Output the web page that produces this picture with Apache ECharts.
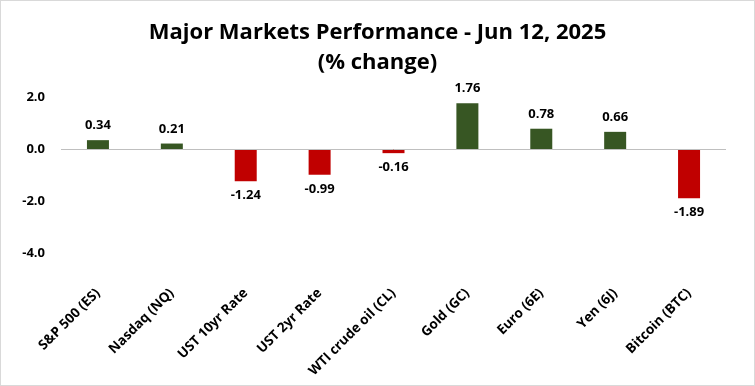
<!DOCTYPE html>
<html><head><meta charset="utf-8">
<script src="https://cdn.jsdelivr.net/npm/echarts@6/dist/echarts.min.js"></script>
<style>html,body{margin:0;padding:0;background:#fff}#c{width:755px;height:386px;box-sizing:border-box;border:1px solid #d9d9d9}</style>
</head><body><div id="c"></div>
<script>
const categories = ["S&P 500 (ES)","Nasdaq (NQ)","UST 10yr Rate","UST 2yr Rate","WTI crude oil (CL)","Gold (GC)","Euro (6E)","Yen (6J)","Bitcoin (BTC)"];
const values = [0.34,0.21,-1.24,-0.99,-0.16,1.76,0.78,0.66,-1.89];
const yTicks = [-4,-2,0,2];
const FONT = '"Open Sans",sans-serif';
const chart = echarts.init(document.getElementById('c'));
chart.setOption({
  animation:false,
  title:{text:'Major Markets Performance - Jun 12, 2025\n(% change)',left:'center',top:12,
    textStyle:{fontFamily:FONT,fontWeight:'bold',fontSize:22,lineHeight:30,color:'#000'}},
  grid:{left:60,right:28,top:96,bottom:132,containLabel:false},
  xAxis:{type:'category',data:categories,position:'bottom',
    axisLine:{show:false},axisTick:{show:false},
    axisLabel:{rotate:45,interval:0,margin:38,fontFamily:FONT,fontWeight:'bold',fontSize:13.5,color:'#000'}},
  yAxis:{type:'value',min:yTicks[0],max:yTicks[yTicks.length-1],interval:2,
    splitLine:{show:false},axisLine:{show:false},axisTick:{show:false},
    axisLabel:{formatter:v=>v.toFixed(1),fontFamily:FONT,fontWeight:'bold',fontSize:13,color:'#000',margin:16}},
  series:[{type:'bar',barWidth:22,
    data:values.map(v=>({value:v,itemStyle:{color:v>=0?'#375623':'#c00000'},
      label:{position:v>=0?'top':'bottom'}})),
    label:{show:true,formatter:p=>p.value.toFixed(2),fontFamily:FONT,fontWeight:'bold',fontSize:13,color:'#000',distance:8},
    markLine:{silent:true,symbol:'none',label:{show:false},lineStyle:{color:'#bfbfbf',type:'solid',width:1},data:[{yAxis:0}]}
  }]
});
</script></body></html>
